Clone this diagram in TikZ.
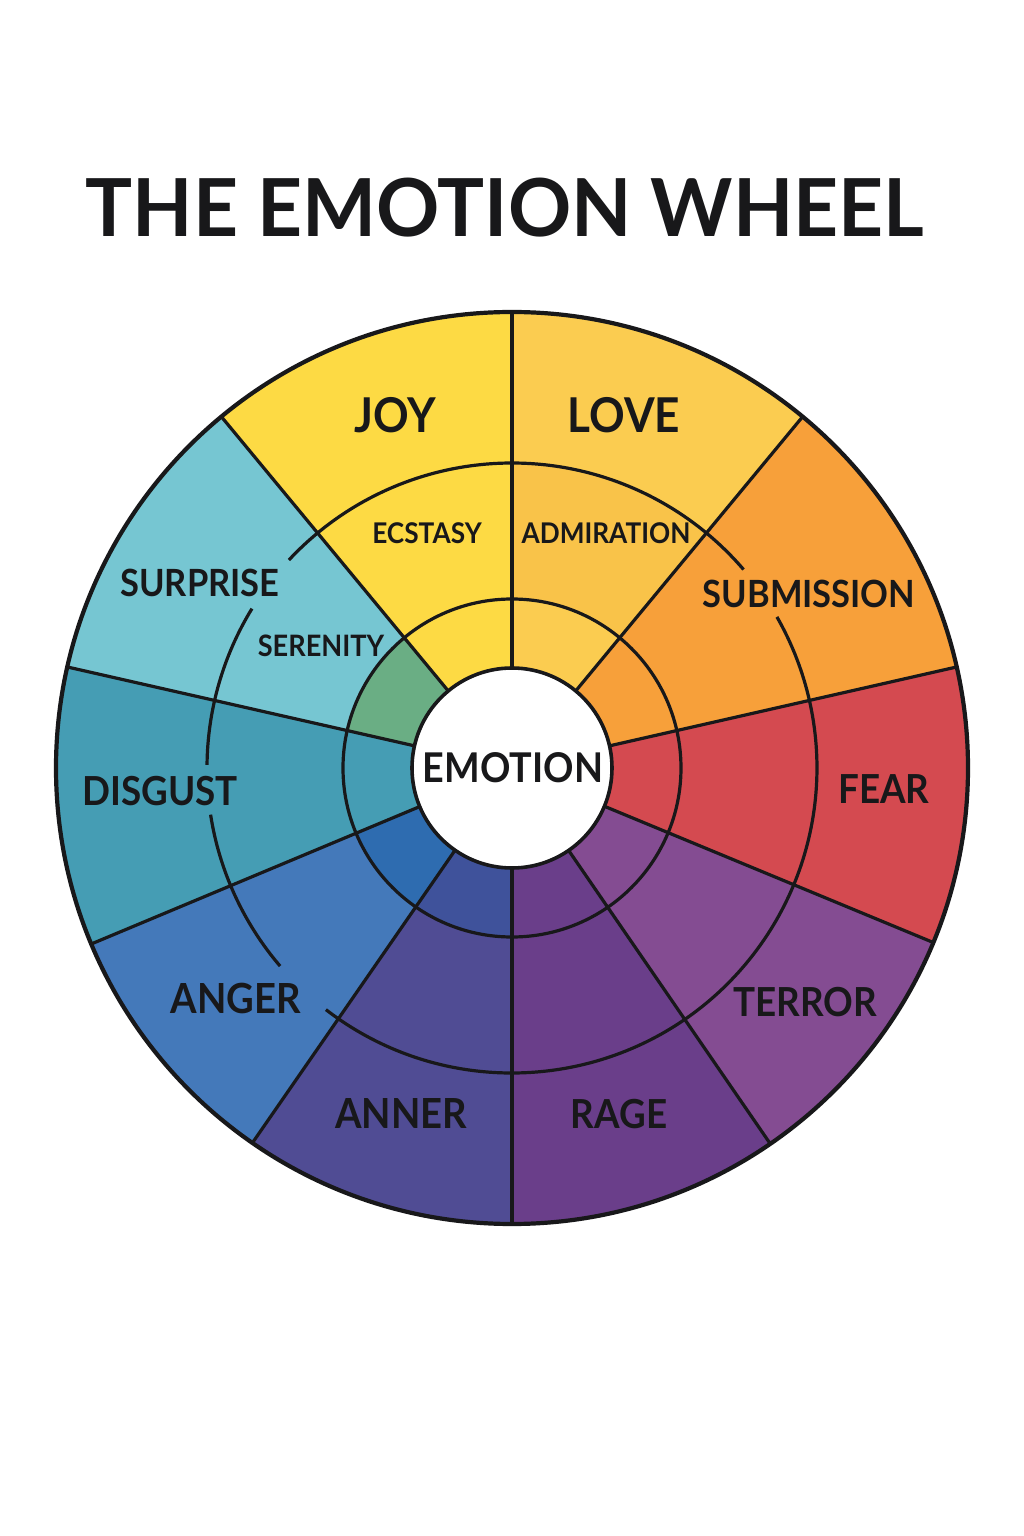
\documentclass[tikz,border=0pt]{standalone}
\usepackage{fontspec}
\setmainfont{Lato}[FakeStretch=0.92]
\newfontfamily\titlefont{Lato}[FakeStretch=0.98]
\definecolor{ink}{RGB}{24,24,26}
\definecolor{cjoy}{RGB}{253,218,68}
\definecolor{clove}{RGB}{251,204,80}
\definecolor{cadm}{RGB}{249,195,73}
\definecolor{csub}{RGB}{247,160,58}
\definecolor{cfear}{RGB}{212,74,80}
\definecolor{cterror}{RGB}{132,76,146}
\definecolor{crage}{RGB}{106,62,138}
\definecolor{canner}{RGB}{80,76,148}
\definecolor{canneri}{RGB}{63,82,155}
\definecolor{canger}{RGB}{68,121,186}
\definecolor{cangeri}{RGB}{46,108,176}
\definecolor{cdisg}{RGB}{69,157,180}
\definecolor{csurp}{RGB}{118,198,210}
\definecolor{cseren}{RGB}{106,174,132}
\newcommand\wsect[5]{%
  \fill[#1] (#2:#4) arc[start angle=#2,end angle=#3,radius=#4] -- (#3:#5)
    arc[start angle=#3,end angle=#2,radius=#5] -- cycle;}
\begin{document}
\begin{tikzpicture}[x=1pt,y=1pt,
  ln/.style={draw=ink,line width=3.2pt},
  rimline/.style={draw=ink,line width=4.2pt},
  lbl/.style={text=ink,inner sep=0pt,font=\bfseries\fontsize{40}{40}\selectfont},
  biglbl/.style={lbl,font=\bfseries\fontsize{48}{48}\selectfont},
  smalllbl/.style={lbl,font=\bfseries\fontsize{28.5}{28.5}\selectfont},
  titlelbl/.style={lbl,font=\titlefont\bfseries\fontsize{80}{80}\selectfont}]
\useasboundingbox[fill=white] (-512,-768) rectangle (512,768);
\def\rz{98}\def\ra{169}\def\rb{305}\def\rR{456}
% sectors
\wsect{cjoy}{90}{129.6}{\rz}{\rR}
\wsect{csurp}{129.6}{167.2}{\rz}{\rR}
\wsect{cdisg}{167.2}{202.7}{\rz}{\rR}
\wsect{canger}{202.7}{235.3}{\rz}{\rR}
\wsect{canner}{235.3}{270}{\rz}{\rR}
\wsect{crage}{270}{304.5}{\rz}{\rR}
\wsect{cterror}{304.5}{337.5}{\rz}{\rR}
\wsect{cfear}{337.5}{372.8}{\rz}{\rR}
\wsect{csub}{12.8}{50.4}{\rz}{\rR}
\wsect{clove}{50.4}{90}{\rz}{\rR}
% ring variations
\wsect{cadm}{50.4}{90}{\ra}{\rb}
\wsect{cseren}{129.6}{167.2}{\rz}{\ra}
\wsect{cangeri}{202.7}{235.3}{\rz}{\ra}
\wsect{canneri}{235.3}{270}{\rz}{\ra}
% radial lines
\foreach \a in {90,129.6,167.2,202.7,235.3,270,304.5,337.5,12.8,50.4}
  \draw[ln] (\a:\rz) -- (\a:\rR);
% inner ring
\draw[ln] (0,0) circle[radius=\ra];
% middle ring with gaps
\draw[ln] (40.6:\rb) arc[start angle=40.6,end angle=137,radius=\rb];
\draw[ln] (148.5:\rb) arc[start angle=148.5,end angle=179.4,radius=\rb];
\draw[ln] (188.8:\rb) arc[start angle=188.8,end angle=220.5,radius=\rb];
\draw[ln] (232.4:\rb) arc[start angle=232.4,end angle=389.7,radius=\rb];
% rim
\draw[rimline] (0,0) circle[radius=\rR];
% centre
\node[circle,fill=white,draw=ink,line width=3.6pt,minimum size=200pt,inner sep=0pt] (hub) at (0,0) {};
\node[lbl,font=\bfseries\fontsize{41}{41}\selectfont] (emotion) at (1,0) {EMOTION};
% title
\node[titlelbl] (title) at (-7,560) {THE EMOTION WHEEL};
% labels
\node[biglbl] (joy) at (-117,353) {JOY};
\node[biglbl] (love) at (112,353) {LOVE};
\node[smalllbl] (ecstasy) at (-85,235) {ECSTASY};
\node[smalllbl] (admiration) at (94,235) {ADMIRATION};
\node[lbl,font=\bfseries\fontsize{37.5}{37.5}\selectfont] (surprise) at (-312,185) {SURPRISE};
\node[smalllbl,font=\bfseries\fontsize{29.5}{29.5}\selectfont] (serenity) at (-191,122) {SERENITY};
\node[lbl,font=\bfseries\fontsize{37.5}{37.5}\selectfont] (submission) at (297,174) {SUBMISSION};
\node[lbl] (disgust) at (-352,-23) {DISGUST};
\node[lbl] (fear) at (372,-21) {FEAR};
\node[lbl,font=\bfseries\fontsize{41.5}{41.5}\selectfont] (anger) at (-276,-230) {ANGER};
\node[lbl,font=\bfseries\fontsize{41.5}{41.5}\selectfont] (anner) at (-111,-345) {ANNER};
\node[lbl] (rage) at (107,-346) {RAGE};
\node[lbl] (terror) at (293,-234) {TERROR};
\end{tikzpicture}
\end{document}
